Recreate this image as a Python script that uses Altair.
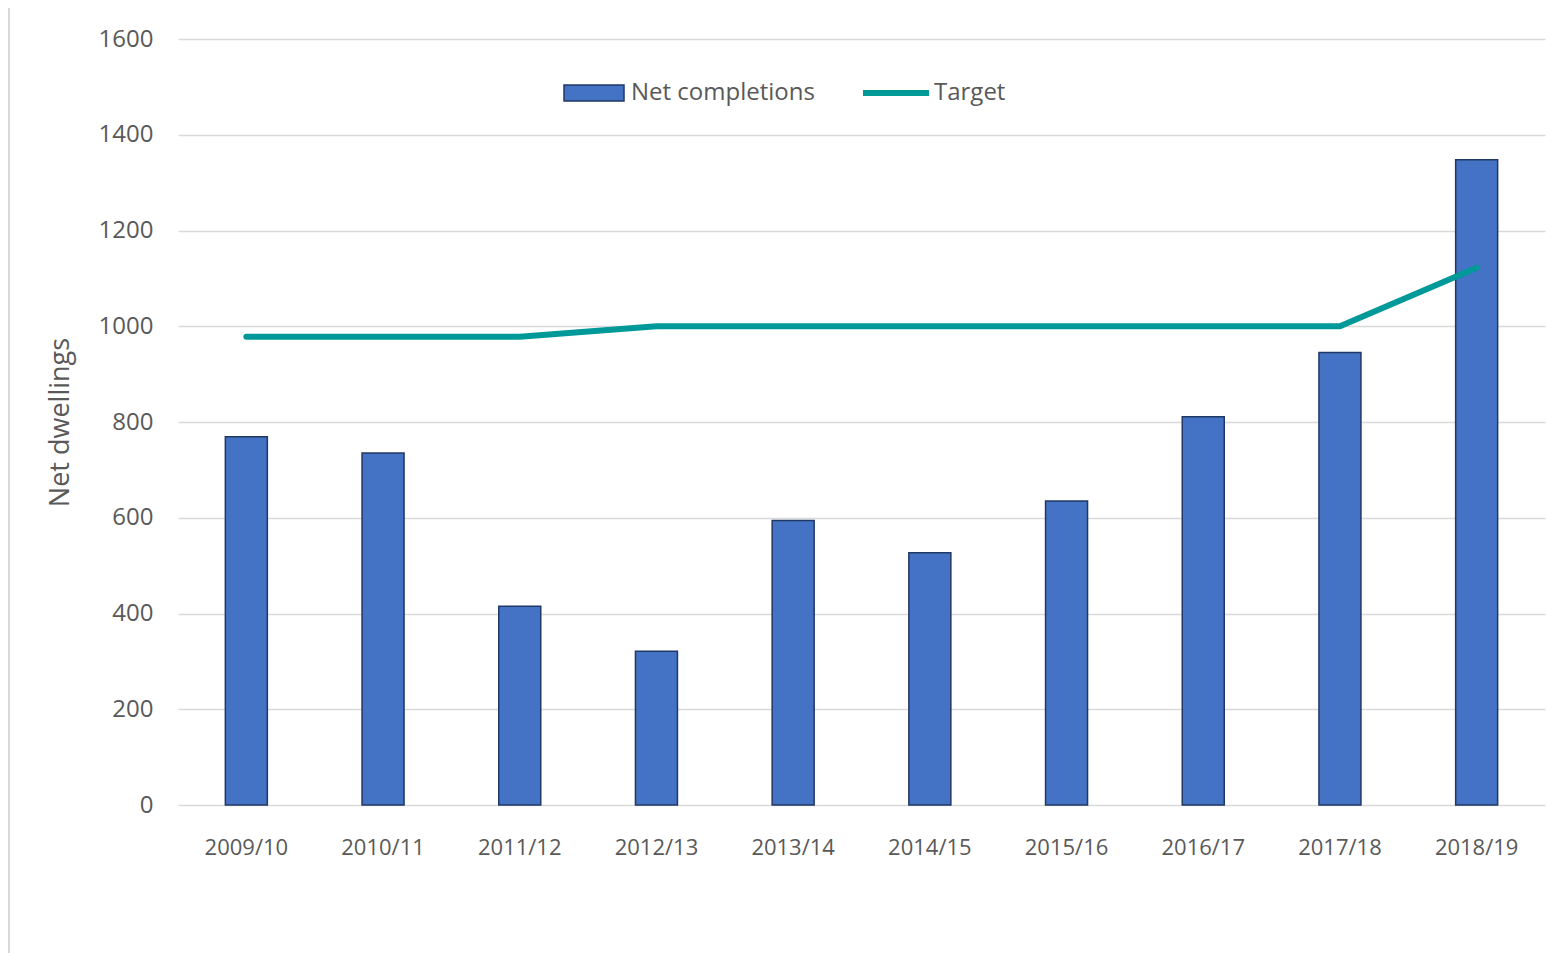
import altair as alt
import pandas as pd

years = ["2009/10", "2010/11", "2011/12", "2012/13", "2013/14",
         "2014/15", "2015/16", "2016/17", "2017/18", "2018/19"]
completions = [769, 735, 415, 321, 594, 527, 635, 811, 945, 1348]
target = [978, 978, 978, 1000, 1000, 1000, 1000, 1000, 1000, 1122]
y_ticks = [0, 200, 400, 600, 800, 1000, 1200, 1400, 1600]

bars_df = pd.DataFrame({"year": years, "value": completions, "series": "Net completions"})
line_df = pd.DataFrame({"year": years, "value": target, "series2": "Target"})

FONT = "Open Sans"
GREY = "#595959"

x_enc = alt.X("year:N", sort=years, title=None,
              scale=alt.Scale(paddingInner=0, paddingOuter=0),
              axis=alt.Axis(labelAngle=0, labelFontSize=22, labelColor=GREY, labelFont=FONT,
                            ticks=False, domain=False, labelPadding=32, grid=False))
y_enc = alt.Y("value:Q", title="Net dwellings",
              scale=alt.Scale(domain=[0, 1600], nice=False),
              axis=alt.Axis(values=y_ticks, format="d", labelFontSize=24, labelColor=GREY,
                            labelFont=FONT, ticks=False, domain=False, labelPadding=25,
                            gridColor="#d9d9d9", gridWidth=1.5,
                            titleFont=FONT, titleFontSize=27, titleColor=GREY,
                            titleFontWeight="normal", titleX=-104, titleY=383))

bars = alt.Chart(bars_df).mark_bar(size=42, stroke="#203864", strokeWidth=1.5).encode(
    x=x_enc, y=y_enc,
    fill=alt.Fill("series:N", scale=alt.Scale(domain=["Net completions"], range=["#4472C4"]),
                  legend=alt.Legend(title=None, orient="none", legendX=385, legendY=23,
                                    padding=0, symbolType="M-1,-0.27L1,-0.27L1,0.27L-1,0.27Z",
                                    symbolSize=3600, symbolStrokeColor="#203864",
                                    symbolStrokeWidth=1.5, symbolFillColor="#4472C4",
                                    labelFontSize=24, labelColor=GREY, labelFont=FONT,
                                    labelOffset=6, labelLimit=0)))

line = alt.Chart(line_df).mark_line(color="#009999", strokeWidth=6, strokeCap="round").encode(
    x=alt.X("year:N", sort=years),
    y=alt.Y("value:Q"),
    stroke=alt.Stroke("series2:N", scale=alt.Scale(domain=["Target"], range=["#009999"]),
                      legend=alt.Legend(title=None, orient="none", legendX=682, legendY=18,
                                        padding=0, symbolType="stroke", symbolSize=4356,
                                        symbolStrokeWidth=6,
                                        labelFontSize=24, labelColor=GREY, labelFont=FONT,
                                        labelOffset=2, labelLimit=0)))

border = alt.Chart(pd.DataFrame({"a": [0]})).mark_rule(color="#d9d9d9", strokeWidth=2).encode(
    x=alt.value(-169), y=alt.value(-36), y2=alt.value(930))

chart = alt.layer(border, bars, line).properties(
    width=1367, height=766,
    autosize=alt.AutoSizeParams(type="none"),
    padding={"left": 170, "top": 31, "right": 5, "bottom": 150},
).configure_view(stroke=None)

chart.save("out.html", embed_options={"renderer": "svg", "actions": False})
